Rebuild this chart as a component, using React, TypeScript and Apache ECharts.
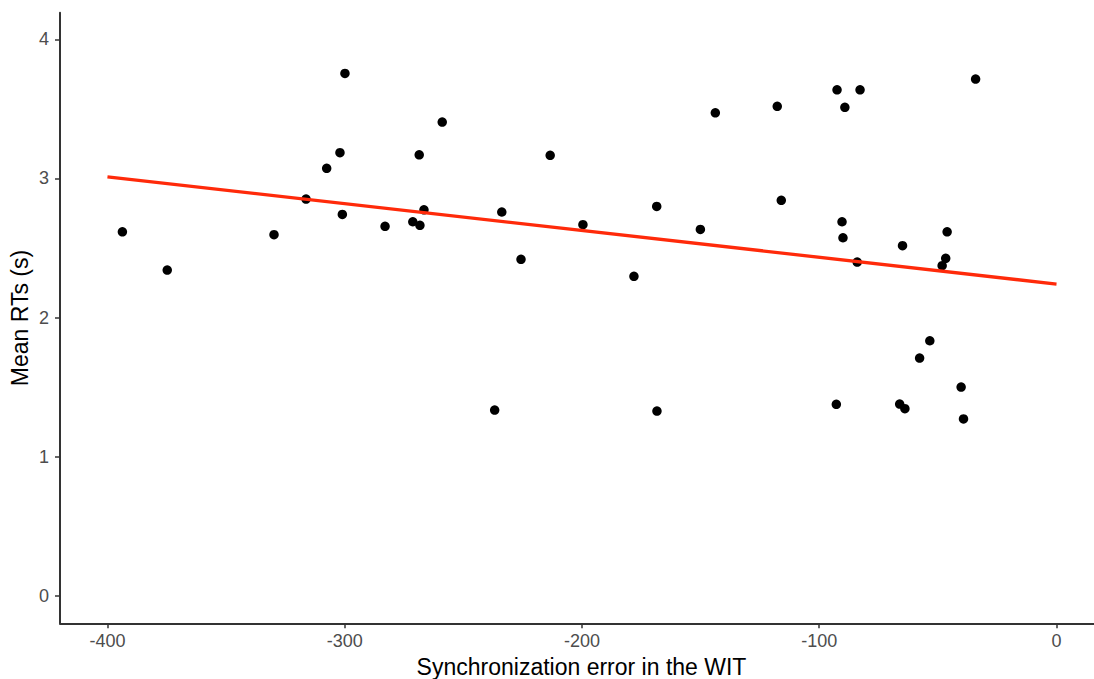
import React, { useEffect, useRef } from "react";
import * as echarts from "echarts";

const xTitle = "Synchronization error in the WIT";
const yTitle = "Mean RTs (s)";
const xTicks = [-400, -300, -200, -100, 0];
const yTicks = [0, 1, 2, 3, 4];

const syncError = [
  -299.9, -302.0, -307.6, -316.3, -301.0, -393.7, -329.8, -374.8,
  -258.9, -268.6, -213.4, -143.8, -266.6, -233.8, -283.0, -271.3, -268.3, -199.6, -168.5, -150.1, -225.7, -178.1,
  -117.7, -92.5, -82.8, -89.2, -34.1, -116.0, -90.4, -90.0, -64.9, -84.0, -46.1, -46.7, -48.2,
  -53.4, -57.7, -40.2, -92.8, -66.1, -63.9, -39.2,
  -236.8, -168.4,
];
const meanRT = [
  3.755, 3.185, 3.073, 2.852, 2.742, 2.617, 2.596, 2.342,
  3.405, 3.17, 3.166, 3.472, 2.775, 2.759, 2.656, 2.689, 2.663, 2.668, 2.799, 2.634, 2.419, 2.297,
  3.518, 3.637, 3.637, 3.511, 3.714, 2.843, 2.689, 2.574, 2.517, 2.399, 2.617, 2.426, 2.373,
  1.834, 1.71, 1.501, 1.377, 1.379, 1.346, 1.272,
  1.336, 1.329,
];
const fitX = [-400, 0];
const fitY = [3.012, 2.241];

export default function App() {
  const ref = useRef<HTMLDivElement>(null);
  useEffect(() => {
    if (!ref.current) return;
    const chart = echarts.init(ref.current, undefined, { renderer: "svg" });
    const font = "'Liberation Sans', Arial, Helvetica, sans-serif";
    chart.setOption({
      animation: false,
      backgroundColor: "#ffffff",
      grid: { left: 60, top: 12.7, width: 1034, height: 610.6, containLabel: false },
      xAxis: {
        type: "value",
        min: -420,
        max: 15.8,
        splitLine: { show: false },
        axisLine: { show: true, onZero: false, lineStyle: { color: "#333333", width: 2 } },
        axisTick: { show: true, length: 5, customValues: xTicks, lineStyle: { color: "#333333", width: 1.5 } },
        axisLabel: {
          customValues: xTicks,
          margin: 9,
          color: "#4d4d4d",
          fontSize: 18,
          fontFamily: font,
        },
      },
      yAxis: {
        type: "value",
        min: -0.196,
        max: 4.191,
        splitLine: { show: false },
        axisLine: { show: true, onZero: false, lineStyle: { color: "#333333", width: 2 } },
        axisTick: { show: true, length: 5, customValues: yTicks, lineStyle: { color: "#333333", width: 1.5 } },
        axisLabel: {
          customValues: yTicks,
          margin: 11,
          color: "#4d4d4d",
          fontSize: 18,
          fontFamily: font,
        },
      },
      graphic: [
        {
          type: "text",
          x: 581.5,
          y: 667,
          style: {
            text: xTitle,
            fill: "#000000",
            fontSize: 23,
            fontFamily: font,
            textAlign: "center",
            textVerticalAlign: "middle",
          },
        },
        {
          type: "text",
          x: 20,
          y: 318,
          rotation: Math.PI / 2,
          style: {
            text: yTitle,
            fill: "#000000",
            fontSize: 23,
            fontFamily: font,
            textAlign: "center",
            textVerticalAlign: "middle",
          },
        },
      ],
      series: [
        {
          type: "scatter",
          data: syncError.map((x, i) => [x, meanRT[i]]),
          symbol: "circle",
          symbolSize: 9.5,
          itemStyle: { color: "#000000", opacity: 1 },
          z: 3,
        },
        {
          type: "line",
          data: fitX.map((x, i) => [x, fitY[i]]),
          showSymbol: false,
          symbol: "none",
          lineStyle: { color: "#ff2a0a", width: 3.3 },
          z: 4,
        },
      ],
    });
    return () => chart.dispose();
  }, []);
  return (
    <div
      ref={ref}
      style={{ position: "fixed", left: 0, top: 0, width: 1094, height: 679 }}
    />
  );
}
